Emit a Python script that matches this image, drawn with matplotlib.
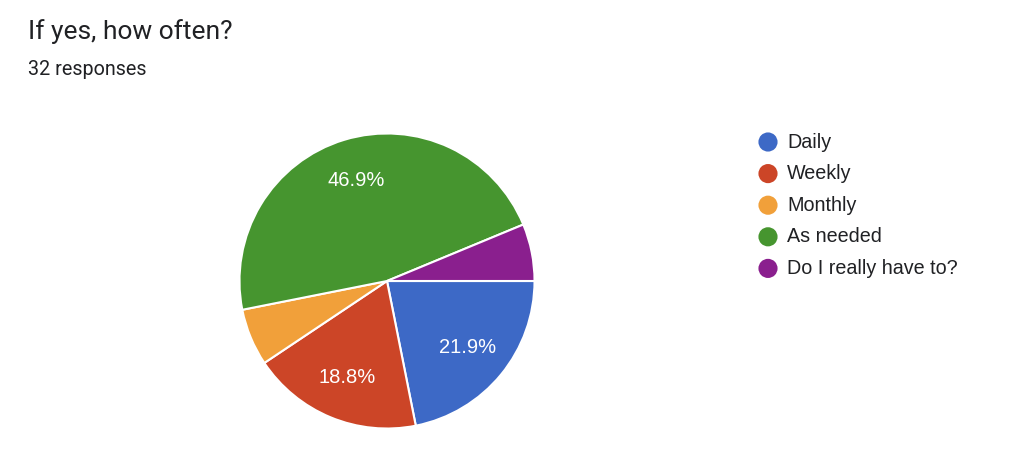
import matplotlib.pyplot as plt

# Data
labels = ['Daily', 'Weekly', 'Monthly', 'As needed', 'Do I really have to?']
counts = [7, 6, 2, 15, 2]
colors = ['#3d69c6', '#cc4527', '#f1a03a', '#46952f', '#8a1f8e']
title = 'If yes, how often?'
subtitle = '32 responses'

W, H = 1024, 469
fig = plt.figure(figsize=(W / 100, H / 100), dpi=100)
fig.patch.set_facecolor('white')

# Title text
fig.text(28 / W, 1 - 32 / H, title, fontsize=19, family='Roboto', color='#202124', va='center')
fig.text(28 / W, 1 - 69 / H, subtitle, fontsize=14.2, family='Roboto', color='#202124', va='center')

# Pie, centre (387, 281) px, radius 149 px
cx, cy, r = 387, 281, 149
ax = fig.add_axes([(cx - r) / W, 1 - (cy + r) / H, 2 * r / W, 2 * r / H])


def fmt(p):
    return f'{p:.1f}%' if p > 10 else ''


wedges, texts, autotexts = ax.pie(
    counts, colors=colors, startangle=0, counterclock=False,
    autopct=fmt, pctdistance=0.71,
    wedgeprops=dict(edgecolor='white', linewidth=1.5),
    textprops=dict(color='white', fontsize=14.5, family='Liberation Sans'))
ax.set_xlim(-1.01, 1.01)
ax.set_ylim(-1.01, 1.01)
ax.set_aspect('equal')
ax.axis('off')

# Legend drawn in pixel coordinates
lax = fig.add_axes([0, 0, 1, 1])
lax.set_xlim(0, W)
lax.set_ylim(H, 0)
lax.axis('off')
lax.patch.set_alpha(0)
for i, (lab, col) in enumerate(zip(labels, colors)):
    y = 142 + i * 31.6
    lax.scatter([768], [y], s=190, color=col, edgecolors='none')
    lax.text(787, y, lab, fontsize=14.2, family='Liberation Sans', color='#202124', va='center')

fig.savefig('out.png', dpi=100)
